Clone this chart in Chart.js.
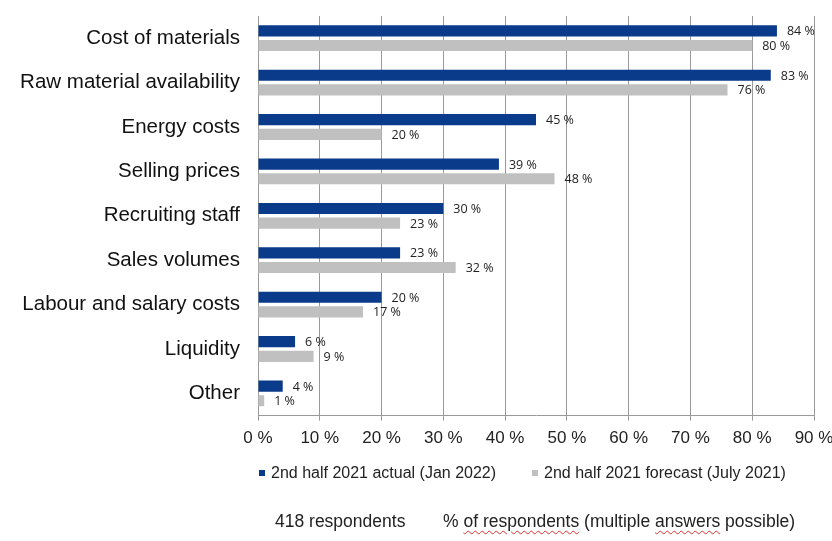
<!DOCTYPE html>
<html>
<head>
<meta charset="utf-8">
<script src="https://cdn.jsdelivr.net/npm/chart.js@4"></script>
<style>
  html, body { margin: 0; padding: 0; background: #fff; }
  #wrap { position: relative; width: 832px; height: 541px; font-family: "Liberation Sans", Arial, sans-serif; color: #222; }
  .txt { position: absolute; white-space: nowrap; }
  .foot { font-size: 17.5px; top: 511px; }
  .leg { font-size: 16px; top: 464px; }
  .box { display: inline-block; width: 6px; height: 6px; margin-right: 6px; vertical-align: 2px; }
  .sp { text-decoration: underline wavy #e03030; text-decoration-thickness: 1px; text-underline-offset: 3px; }
</style>
</head>
<body>
<div id="wrap">
  <canvas id="chart" width="832" height="541"></canvas>
  <div id="legend"></div>
  <div class="txt foot" style="left:275px">418 respondents</div>
  <div class="txt foot" style="left:443px">% <span class="sp">of respondents</span> (multiple <span class="sp">answers</span> possible)</div>
</div>
<script>
const categories = ['Cost of materials', 'Raw material availability', 'Energy costs', 'Selling prices',
    'Recruiting staff', 'Sales volumes', 'Labour and salary costs', 'Liquidity', 'Other'];
const actualJan2022 = [84, 83, 45, 39, 30, 23, 20, 6, 4];
const forecastJul2021 = [80, 76, 20, 48, 23, 32, 17, 9, 1];
const seriesNames = ['2nd half 2021 actual (Jan 2022)', '2nd half 2021 forecast (July 2021)'];
const seriesColors = ['#0a3a8a', '#c0c0c0'];
const xTicks = [0, 10, 20, 30, 40, 50, 60, 70, 80, 90];

// legenda em HTML para controlar a posição
const legendLeft = [259, 532];
document.getElementById('legend').innerHTML = seriesNames.map(function (name, i) {
    return '<div class="txt leg" style="left:' + legendLeft[i] + 'px"><span class="box" style="background:' +
        seriesColors[i] + '"></span>' + name + '</div>';
}).join('');

// etiquetas de valor à direita de cada barra
const valueLabels = {
    id: 'valueLabels',
    afterDatasetsDraw: function (chart) {
        const ctx = chart.ctx;
        ctx.save();
        ctx.font = '12.5px "Open Sans", sans-serif';
        ctx.fillStyle = '#222';
        ctx.textBaseline = 'middle';
        chart.data.datasets.forEach(function (ds, i) {
            chart.getDatasetMeta(i).data.forEach(function (bar, j) {
                ctx.fillText(ds.data[j] + ' %', bar.x + 10, bar.y + 1);
            });
        });
        ctx.restore();
    }
};

new Chart(document.getElementById('chart'), {
    type: 'bar',
    data: {
        labels: categories,
        datasets: [{
            label: seriesNames[0],
            data: actualJan2022,
            backgroundColor: seriesColors[0]
        }, {
            label: seriesNames[1],
            data: forecastJul2021,
            backgroundColor: seriesColors[1]
        }]
    },
    options: {
        indexAxis: 'y',
        responsive: false,
        animation: false,
        categoryPercentage: 0.66,
        barPercentage: 0.76,
        layout: { padding: { top: 16, right: 18, bottom: 84, left: 0 } },
        plugins: {
            legend: { display: false },
            tooltip: { enabled: false }
        },
        scales: {
            x: {
                min: 0, max: 90,
                afterBuildTicks: function (axis) {
                    axis.ticks = xTicks.map(function (v) { return { value: v }; });
                },
                afterFit: function (axis) {
                    axis.paddingLeft = 0;
                    axis.paddingRight = 0;
                },
                ticks: {
                    color: '#222', padding: 8,
                    font: { family: '"Liberation Sans", Arial, sans-serif', size: 17 },
                    callback: function (v) { return v + ' %'; }
                },
                grid: { color: '#9a9a9a', tickLength: 5 },
                border: { color: '#9a9a9a' }
            },
            y: {
                afterFit: function (axis) {
                    axis.width = 258;
                    axis.paddingTop = 0;
                    axis.paddingBottom = 0;
                },
                ticks: {
                    color: '#111', padding: 18,
                    font: { family: '"Liberation Sans", Arial, sans-serif', size: 20.5 }
                },
                grid: { display: false, drawTicks: false },
                border: { color: '#9a9a9a' }
            }
        }
    },
    plugins: [valueLabels]
});
</script>
</body>
</html>
